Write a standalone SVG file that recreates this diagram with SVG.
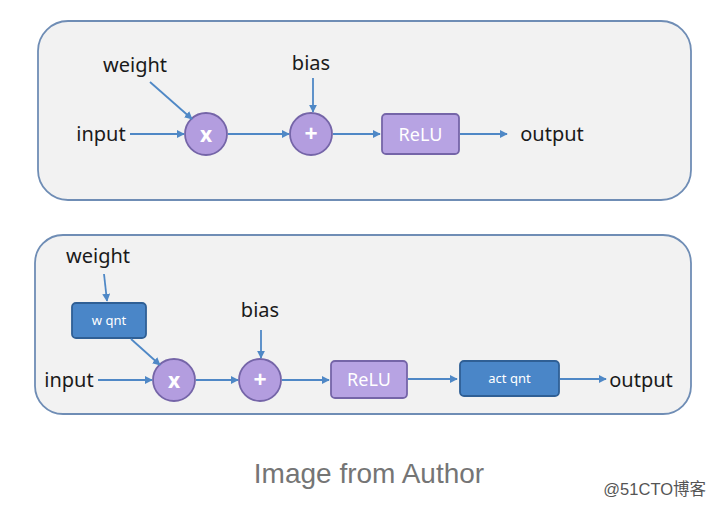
<svg xmlns="http://www.w3.org/2000/svg" width="714" height="508" viewBox="0 0 714 508">
<defs>
<marker id="ah" viewBox="0 0 10 10" refX="9" refY="5" markerWidth="8" markerHeight="8" orient="auto" markerUnits="userSpaceOnUse">
<path d="M0,0 L10,5 L0,10 z" fill="#4f88c6"/>
</marker>
<style>
.panel{fill:#f2f2f2;stroke:#6f8db5;stroke-width:1.8}
.op{fill:#b39ddf;stroke:#7565a8;stroke-width:1.8}
.relu{fill:#b7a3e3;stroke:#7565a8;stroke-width:1.8}
.qnt{fill:#4a86c8;stroke:#2f5f95;stroke-width:1.8}
.lbl{font-family:"Noto Sans","Open Sans",sans-serif;font-size:20px;fill:#1a1a1a}
.in{font-family:"Noto Sans","Open Sans",sans-serif;fill:#ffffff}
.edge{stroke:#4f88c6;stroke-width:1.8;fill:none;marker-end:url(#ah)}
</style>
</defs>
<rect width="714" height="508" fill="#ffffff"/>
<g id="panel1"><rect class="panel" x="38" y="21" width="653" height="179" rx="30"/></g>
<g id="panel2"><rect class="panel" x="35" y="235" width="656" height="179" rx="28"/></g>

<g id="p1-weight"><text class="lbl" x="135" y="72" text-anchor="middle">weight</text></g>
<g id="p1-bias"><text class="lbl" x="311" y="70" text-anchor="middle">bias</text></g>
<g id="p1-input"><text class="lbl" x="101" y="141" text-anchor="middle">input</text></g>
<g id="p1-mul"><circle class="op" cx="206" cy="134" r="21"/><text class="in" x="206" y="142" font-size="21" font-weight="bold" text-anchor="middle">x</text></g>
<g id="p1-add"><circle class="op" cx="311" cy="134" r="21"/><text class="in" x="311" y="142" font-size="23" font-weight="bold" text-anchor="middle">+</text></g>
<g id="p1-relu"><rect class="relu" x="382" y="114" width="77" height="40" rx="4"/><text class="in" x="420.5" y="141" font-size="18" text-anchor="middle">ReLU</text></g>
<g id="p1-output"><text class="lbl" x="552" y="141" text-anchor="middle">output</text></g>

<g id="p2-weight"><text class="lbl" x="98" y="263" text-anchor="middle">weight</text></g>
<g id="p2-wqnt"><rect class="qnt" x="72" y="303" width="74" height="35" rx="4"/><text class="in" x="109" y="325" font-size="13" text-anchor="middle">w qnt</text></g>
<g id="p2-bias"><text class="lbl" x="260" y="317" text-anchor="middle">bias</text></g>
<g id="p2-input"><text class="lbl" x="69" y="387" text-anchor="middle">input</text></g>
<g id="p2-mul"><circle class="op" cx="174" cy="380" r="21"/><text class="in" x="174" y="388" font-size="21" font-weight="bold" text-anchor="middle">x</text></g>
<g id="p2-add"><circle class="op" cx="260" cy="380" r="21"/><text class="in" x="260" y="388" font-size="23" font-weight="bold" text-anchor="middle">+</text></g>
<g id="p2-relu"><rect class="relu" x="331" y="361" width="76" height="37" rx="4"/><text class="in" x="369" y="386" font-size="18" text-anchor="middle">ReLU</text></g>
<g id="p2-actqnt"><rect class="qnt" x="460" y="361" width="99" height="35" rx="4"/><text class="in" x="509.5" y="383" font-size="13" text-anchor="middle">act qnt</text></g>
<g id="p2-output"><text class="lbl" x="641" y="387" text-anchor="middle">output</text></g>

<g id="connectors">
<line class="edge" x1="130" y1="134" x2="184" y2="134"/>
<line class="edge" x1="150" y1="82" x2="192" y2="119"/>
<line class="edge" x1="228" y1="134" x2="289" y2="134"/>
<line class="edge" x1="313" y1="78" x2="313" y2="112"/>
<line class="edge" x1="333" y1="134" x2="380" y2="134"/>
<line class="edge" x1="460" y1="134" x2="507" y2="134"/>

<line class="edge" x1="104" y1="274" x2="107" y2="301"/>
<line class="edge" x1="131" y1="339" x2="160" y2="365"/>
<line class="edge" x1="98" y1="380" x2="152" y2="380"/>
<line class="edge" x1="196" y1="380" x2="238" y2="380"/>
<line class="edge" x1="261" y1="330" x2="261" y2="358"/>
<line class="edge" x1="282" y1="380" x2="329" y2="380"/>
<line class="edge" x1="408" y1="379" x2="457" y2="379"/>
<line class="edge" x1="560" y1="379" x2="606" y2="379"/>
</g>

<text x="369" y="483" text-anchor="middle" font-family="Liberation Sans, Arial, sans-serif" font-size="28" fill="#757575">Image from Author</text>
<text x="706" y="495" text-anchor="end" font-family="Liberation Sans, 'Noto Sans CJK SC', sans-serif" font-size="16.5" fill="#555555">@51CTO博客</text>
</svg>
